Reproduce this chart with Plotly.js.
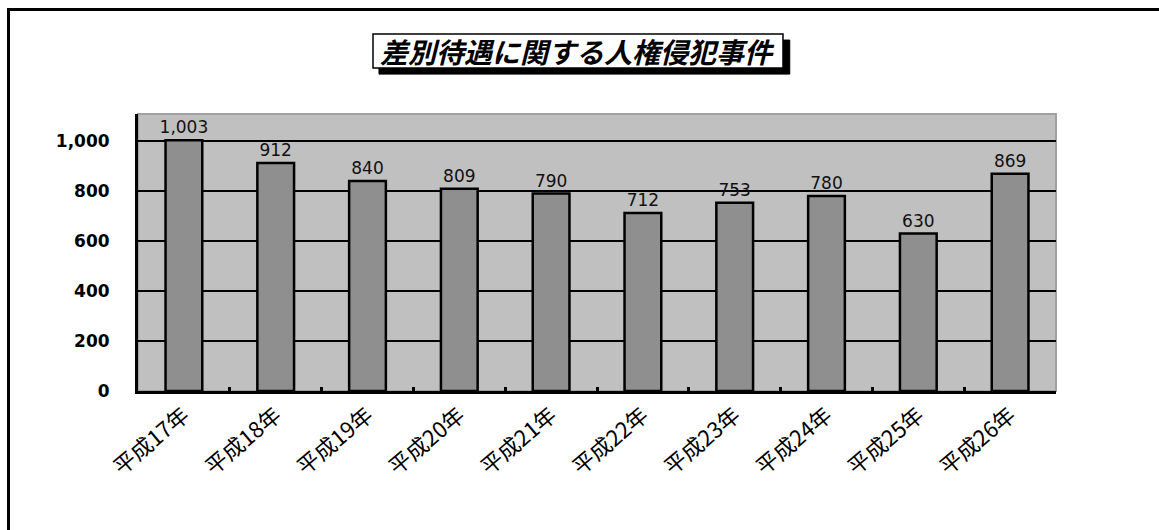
<!DOCTYPE html>
<html>
<head>
<meta charset="utf-8">
<script src="https://cdn.plot.ly/plotly-3.0.1.min.js"></script>
<style>
  html, body { margin: 0; padding: 0; background: #fff; overflow: hidden; }
  #wrap { position: relative; width: 1159px; height: 530px; }
  #chart { position: absolute; left: 0; top: 0; width: 1159px; height: 530px; }
  #frame { position: absolute; left: 7px; top: 8px; width: 1300px; height: 700px;
           border-top: 3px solid #000; border-left: 3px solid #000; pointer-events: none; }
</style>
</head>
<body>
<div id="wrap">
  <div id="chart"></div>
  <div id="frame"></div>
</div>
<script>
const chartTitle = "差別待遇に関する人権侵犯事件";
const categories = ["平成17年", "平成18年", "平成19年", "平成20年", "平成21年",
                    "平成22年", "平成23年", "平成24年", "平成25年", "平成26年"];
const cases = [1003, 912, 840, 809, 790, 712, 753, 780, 630, 869];
const yTicks = [0, 200, 400, 600, 800, 1000];
const yTickLabels = ["0", "200", "400", "600", "800", "1,000"];

const trace = {
  type: "bar",
  x: categories,
  y: cases,
  marker: { color: "#8f8f8f", line: { color: "#000", width: 2.5 } },
  text: cases.map(v => v.toLocaleString("en-US")),
  texttemplate: "%{text}",
  textposition: "outside",
  constraintext: "none",
  textfont: { family: "DejaVu Sans", size: 17, color: "#111" },
  cliponaxis: false,
  hoverinfo: "skip"
};

const layout = {
  width: 1159,
  height: 530,
  margin: { l: 138, r: 103, t: 114, b: 139 },
  paper_bgcolor: "rgba(255,255,255,1)",
  plot_bgcolor: "#c0c0c0",
  showlegend: false,
  bargap: 0.6,
  xaxis: {
    type: "category",
    tickangle: -40,
    tickson: "boundaries",
    ticks: "inside",
    ticklen: 4,
    tickwidth: 3,
    tickcolor: "#000",
    showgrid: false,
    showline: true,
    linecolor: "#000",
    linewidth: 3,
    automargin: false,
    tickfont: { family: "Noto Sans CJK JP", size: 22, color: "#000" }
  },
  yaxis: {
    range: [0, 1108],
    tickvals: yTicks,
    ticktext: yTickLabels,
    showgrid: true,
    gridcolor: "#000",
    gridwidth: 2,
    zeroline: false,
    showline: true,
    linecolor: "#000",
    linewidth: 3,
    ticks: "",
    ticklabelstandoff: 22,
    tickfont: { family: "DejaVu Sans", size: 17, color: "#000", weight: "bold" }
  },
  shapes: [
    { type: "rect", xref: "paper", yref: "paper", x0: 0, x1: 1, y0: 0, y1: 1,
      line: { color: "#a0a0a0", width: 2 }, layer: "below" },
    { type: "rect", xref: "paper", yref: "paper", x0: 0.2625, x1: 0.710, y0: 1.144, y1: 1.267,
      fillcolor: "#000", line: { color: "#000", width: 1 } },
    { type: "rect", xref: "paper", yref: "paper", x0: 0.256, x1: 0.7026, y0: 1.166, y1: 1.289,
      fillcolor: "#fff", line: { color: "#000", width: 1.5 } }
  ],
  annotations: [
    { text: chartTitle, xref: "paper", yref: "paper", x: 0.479, y: 1.227,
      xanchor: "center", yanchor: "middle", showarrow: false,
      font: { family: "Noto Sans CJK JP", size: 28, color: "#000", style: "italic", weight: "bold" } }
  ]
};

Plotly.newPlot("chart", [trace], layout, { displayModeBar: false, staticPlot: true });
</script>
</body>
</html>
